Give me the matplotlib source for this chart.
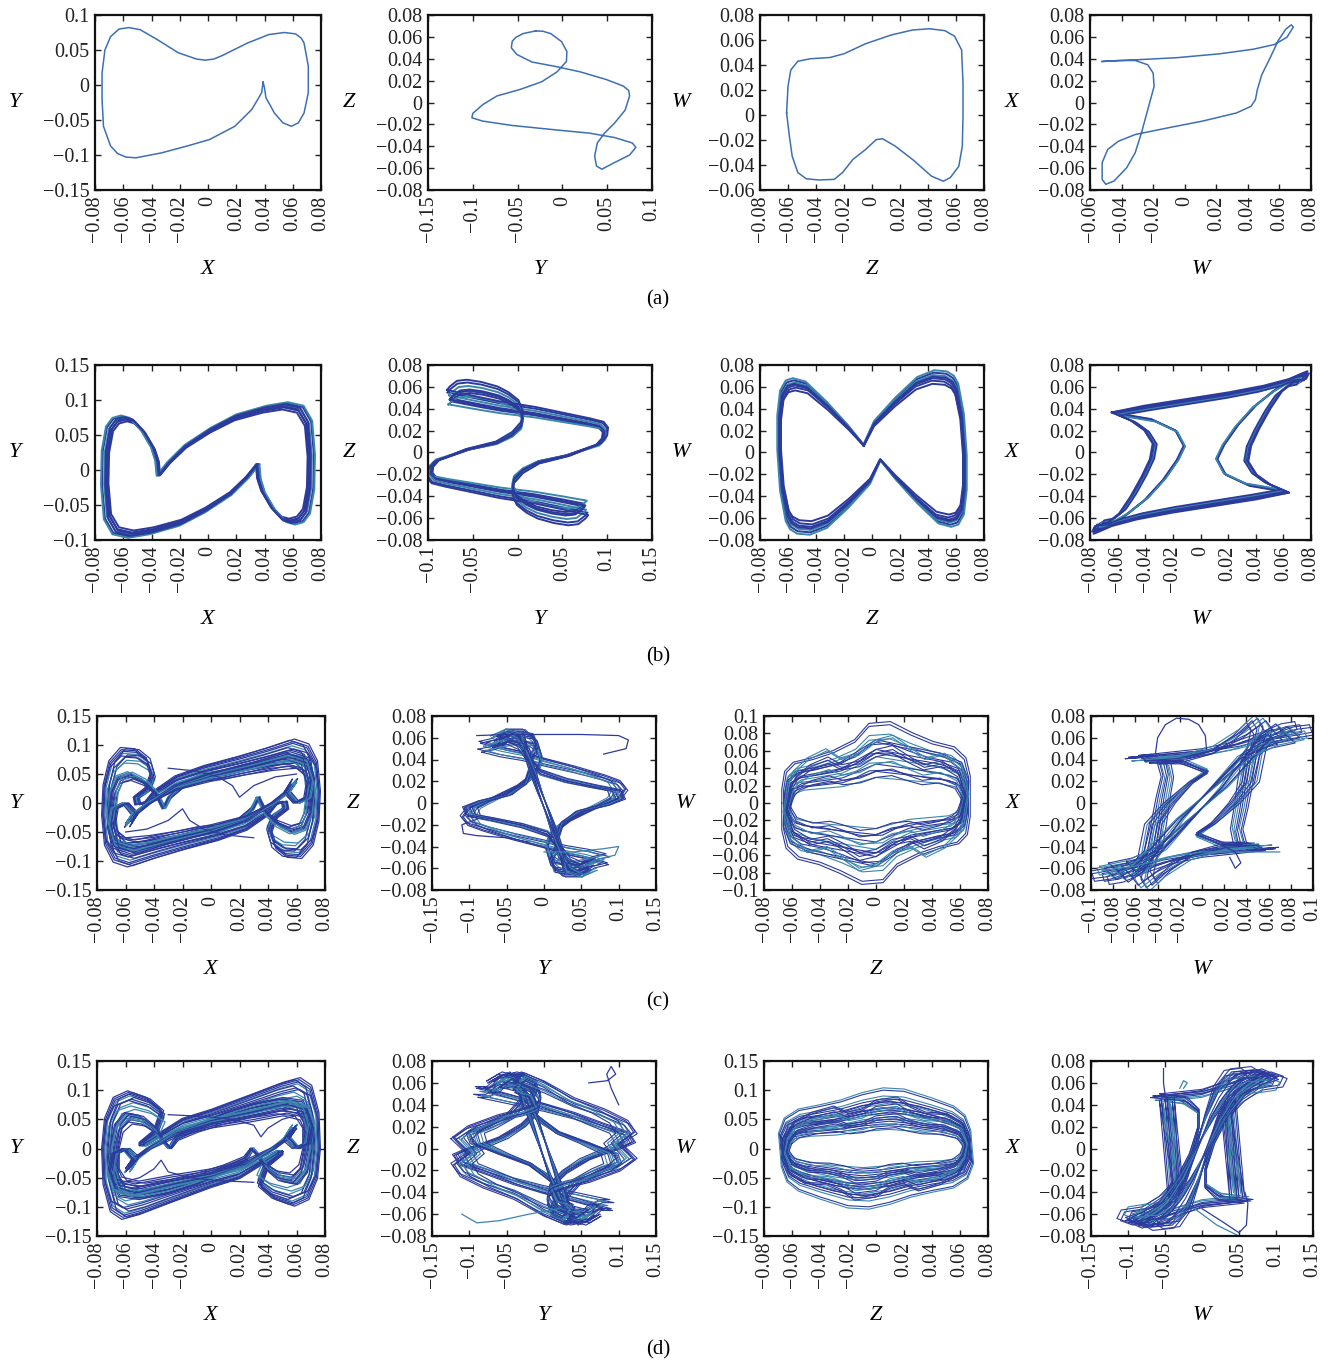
"""
Phase portraits of the 4D system: periodic (a), symmetric periodic (b) and chaotic (c, d).
"""
import matplotlib
matplotlib.use("Agg")
import matplotlib.pyplot as plt
import numpy as np

plt.rcParams['font.family'] = ['Liberation Serif', 'DejaVu Serif']

# ---- tick sets ----
T08 = [-0.08, -0.06, -0.04, -0.02, 0, 0.02, 0.04, 0.06, 0.08]
T15 = [-0.15, -0.1, -0.05, 0, 0.05, 0.1, 0.15]
T10 = [-0.1, -0.08, -0.06, -0.04, -0.02, 0, 0.02, 0.04, 0.06, 0.08, 0.1]
T_A1Y = [-0.15, -0.1, -0.05, 0, 0.05, 0.1]
T_A2X = [-0.15, -0.1, -0.05, 0, 0.05, 0.1]
T_A3Y = [-0.06, -0.04, -0.02, 0, 0.02, 0.04, 0.06, 0.08]
T_A4X = [-0.06, -0.04, -0.02, 0, 0.02, 0.04, 0.06, 0.08]
T_B1Y = [-0.1, -0.05, 0, 0.05, 0.1, 0.15]
T_B2X = [-0.1, -0.05, 0, 0.05, 0.1, 0.15]

# ---- (a) single periodic orbit, traced ----
A1 = [(0.039, 0.004), (0.038, -0.011), (0.031, -0.035), (0.019, -0.059), (0.001, -0.078),
      (-0.0145, -0.087), (-0.033, -0.097), (-0.051, -0.104), (-0.058, -0.103), (-0.064, -0.098),
      (-0.069, -0.087), (-0.074, -0.059), (-0.075, -0.021), (-0.075, 0.017), (-0.073, 0.050),
      (-0.069, 0.069), (-0.063, 0.080), (-0.056, 0.082), (-0.048, 0.079), (-0.036, 0.065),
      (-0.021, 0.046), (-0.008, 0.037), (-0.002, 0.0355), (0.004, 0.037), (0.010, 0.042),
      (0.028, 0.060), (0.043, 0.072), (0.054, 0.075), (0.062, 0.073), (0.066, 0.067),
      (0.068, 0.060), (0.071, 0.027), (0.071, -0.011), (0.068, -0.040), (0.064, -0.054),
      (0.059, -0.059), (0.053, -0.054), (0.047, -0.040), (0.041, -0.018), (0.040, -0.004),
      (0.039, 0.004)]
A2 = [(-0.030, 0.0654), (-0.044, 0.063), (-0.052, 0.0595), (-0.056, 0.056), (-0.057, 0.050),
      (-0.051, 0.044), (-0.034, 0.037), (-0.008, 0.033), (0.020, 0.028), (0.049, 0.021),
      (0.068, 0.015), (0.074, 0.011), (0.075, 0.006), (0.070, -0.007), (0.058, -0.019),
      (0.047, -0.028), (0.039, -0.037), (0.036, -0.049), (0.038, -0.058), (0.044, -0.061),
      (0.058, -0.055), (0.075, -0.048), (0.082, -0.041), (0.078, -0.037), (0.058, -0.032),
      (0.030, -0.028), (-0.008, -0.025), (-0.056, -0.021), (-0.089, -0.017), (-0.101, -0.014),
      (-0.100, -0.010), (-0.089, -0.002), (-0.073, 0.006), (-0.047, 0.012), (-0.023, 0.019),
      (-0.006, 0.028), (0.0045, 0.0375), (0.005, 0.0466), (-0.001, 0.0557), (-0.013, 0.063),
      (-0.022, 0.0652), (-0.030, 0.0654)]
A3 = [(-0.061, 0.0016), (-0.060, 0.023), (-0.058, 0.036), (-0.053, 0.043), (-0.044, 0.045),
      (-0.030, 0.046), (-0.020, 0.049), (-0.0046, 0.057), (0.0137, 0.064), (0.029, 0.068),
      (0.041, 0.069), (0.052, 0.0675), (0.059, 0.063), (0.064, 0.052), (0.065, 0.0255),
      (0.065, -0.001), (0.0645, -0.025), (0.062, -0.041), (0.056, -0.050), (0.051, -0.053),
      (0.0426, -0.049), (0.029, -0.0356), (0.0167, -0.025), (0.0076, -0.019), (0.003, -0.0197),
      (-0.0046, -0.0276), (-0.0137, -0.0356), (-0.021, -0.046), (-0.027, -0.0515),
      (-0.038, -0.052), (-0.047, -0.051), (-0.053, -0.046), (-0.057, -0.033), (-0.059, -0.017),
      (-0.061, 0.0016)]
A4 = [(-0.0523, 0.0375), (-0.0314, 0.039), (-0.0047, 0.041), (0.022, 0.0445), (0.0434, 0.0487),
      (0.0568, 0.053), (0.0648, 0.0597), (0.0688, 0.069), (0.0675, 0.071), (0.064, 0.067),
      (0.0594, 0.057), (0.054, 0.0405), (0.0488, 0.0253), (0.046, 0.0117), (0.0448, 0.0026),
      (0.042, -0.0035), (0.0327, -0.0096), (0.0113, -0.017), (-0.010, -0.023), (-0.0314, -0.0293),
      (-0.042, -0.0354), (-0.0488, -0.043), (-0.0523, -0.055), (-0.0523, -0.0703),
      (-0.050, -0.0748), (-0.0448, -0.0718), (-0.0368, -0.0597), (-0.0314, -0.046),
      (-0.0274, -0.0278), (-0.0234, -0.0065), (-0.0194, 0.0147), (-0.020, 0.0269),
      (-0.0234, 0.0345), (-0.0314, 0.0384), (-0.042, 0.0384), (-0.0523, 0.0375)]

# ---- (b) symmetric orbits: one half is traced, the other half is its point reflection ----
B1_HALF = [(0.036, 0.008), (0.0285, -0.011), (0.0164, -0.035), (-0.0018, -0.059), (-0.020, -0.078),
           (-0.041, -0.090), (-0.056, -0.095), (-0.067, -0.090), (-0.073, -0.069), (-0.075, -0.021),
           (-0.0745, 0.027), (-0.0715, 0.061), (-0.067, 0.073), (-0.061, 0.0764), (-0.055, 0.073),
           (-0.047, 0.056), (-0.040, 0.032), (-0.037, 0.013), (-0.036, -0.008)]
B2_HALF = [(-0.078, 0.055), (-0.05, 0.05), (-0.02, 0.045), (0.02, 0.04), (0.05, 0.035), (0.08, 0.03),
           (0.095, 0.027), (0.1, 0.022), (0.099, 0.015), (0.092, 0.008), (0.057, -0.003),
           (0.024, -0.0096), (0.006, -0.018), (-0.004, -0.027), (-0.006, -0.036), (-0.001, -0.046),
           (0.01, -0.053), (0.022, -0.058), (0.04, -0.062), (0.056, -0.064), (0.067, -0.063),
           (0.075, -0.058), (0.078, -0.055)]
B3_HALF = [(-0.006, 0.007), (-0.0167, 0.0238), (-0.032, 0.045), (-0.047, 0.063), (-0.056, 0.066),
           (-0.061, 0.064), (-0.065, 0.055), (-0.067, 0.033), (-0.067, 0.0026), (-0.065, -0.034),
           (-0.061, -0.061), (-0.058, -0.068), (-0.053, -0.072), (-0.044, -0.073), (-0.032, -0.067),
           (-0.0167, -0.049), (-0.0015, -0.028), (0.006, -0.007)]
B4_HALF_A = [(-0.063, 0.036), (-0.04, 0.042), (-0.01, 0.048), (0.02, 0.054), (0.045, 0.060),
             (0.063, 0.066), (0.072, 0.071), (0.076, 0.073), (0.074, 0.068), (0.066, 0.066),
             (0.055, 0.058), (0.04, 0.043), (0.027, 0.025), (0.017, 0.007), (0.012, -0.006),
             (0.018, -0.02), (0.035, -0.03), (0.063, -0.036)]
B4_HALF_B = [(-0.063, 0.036), (-0.04, 0.041), (-0.01, 0.047), (0.02, 0.053), (0.045, 0.059),
             (0.063, 0.065), (0.072, 0.07), (0.077, 0.071), (0.075, 0.066), (0.067, 0.064),
             (0.058, 0.055), (0.05, 0.04), (0.042, 0.022), (0.036, 0.006), (0.034, -0.008),
             (0.04, -0.02), (0.05, -0.029), (0.063, -0.036)]
B1_STRANDS = [(1.0, 1.0), (0.98, 0.97), (0.96, 0.94), (0.94, 0.91), (1.01, 1.02), (0.97, 0.99), (0.95, 0.96)]
B2_STRANDS = [(1.0, 1.0), (0.98, 0.95), (0.96, 0.9), (0.95, 0.85), (0.99, 0.8), (1.01, 1.04), (0.97, 0.88)]
B3_STRANDS = [(1.0, 1.0), (0.99, 0.97), (0.98, 0.93), (0.97, 0.9), (1.01, 1.03), (0.98, 0.86), (0.99, 0.95)]
B4_STRANDS = [(1.0, 1.0), (0.97, 0.98), (0.95, 0.96), (1.02, 1.02), (0.93, 0.94)]

# ---- (c) chaotic, weaker ----
C1_HALF_A = [(0.046, -0.002), (0.04, -0.02), (0.025, -0.045), (0.005, -0.062), (-0.02, -0.078),
             (-0.04, -0.092), (-0.058, -0.106), (-0.068, -0.098), (-0.074, -0.07), (-0.076, -0.02),
             (-0.075, 0.03), (-0.071, 0.07), (-0.063, 0.092), (-0.053, 0.09), (-0.045, 0.075),
             (-0.042, 0.05), (-0.046, 0.025), (-0.054, 0.01), (-0.053, -0.003), (-0.046, 0.002)]
C1_HALF_B = [(0.034, 0.01), (0.03, -0.01), (0.02, -0.035), (0.005, -0.05), (-0.01, -0.055),
             (-0.025, -0.065), (-0.045, -0.075), (-0.062, -0.08), (-0.07, -0.06), (-0.072, -0.02),
             (-0.07, 0.02), (-0.066, 0.045), (-0.058, 0.052), (-0.048, 0.04), (-0.04, 0.02),
             (-0.034, -0.01)]
C1_HALF_C = [(0.06, 0.04), (0.055, 0.02), (0.045, 0.0), (0.025, -0.03), (0.0, -0.05), (-0.03, -0.068),
             (-0.055, -0.085), (-0.068, -0.075), (-0.072, -0.04), (-0.07, -0.01), (-0.062, 0.0),
             (-0.055, -0.02), (-0.06, -0.04)]
C1_CUSP = [(-0.06, -0.05), (-0.045, -0.045), (-0.03, -0.03), (-0.02, -0.01), (-0.015, -0.03),
           (-0.005, -0.045), (0.01, -0.055), (0.03, -0.06)]
C1_STRANDS = [(1.0, 1.0), (0.98, 0.93), (0.96, 0.86), (1.01, 1.04), (0.94, 0.8), (0.99, 0.97),
              (0.93, 0.9), (0.97, 0.75), (1.0, 0.88), (0.95, 1.02)]

C2_HALF_A = [(-0.085, 0.055), (-0.06, 0.05), (-0.03, 0.046), (0.0, 0.04), (0.04, 0.033), (0.08, 0.025),
             (0.1, 0.02), (0.108, 0.013), (0.1, 0.005), (0.065, -0.006), (0.035, -0.016),
             (0.012, -0.028), (0.003, -0.042), (0.01, -0.056), (0.028, -0.066), (0.05, -0.066),
             (0.066, -0.058), (0.085, -0.055)]
C2_HALF_B = [(-0.06, 0.06), (-0.035, 0.064), (-0.015, 0.062), (-0.01, 0.052), (-0.02, 0.042),
             (-0.005, 0.03), (0.03, 0.022), (0.07, 0.016), (0.1, 0.012), (0.105, 0.004),
             (0.085, -0.002), (0.05, -0.008), (0.025, -0.02), (0.018, -0.035), (0.022, -0.05),
             (0.035, -0.062), (0.05, -0.066), (0.06, -0.06)]
C2_HALF_C = [(-0.07, 0.06), (-0.05, 0.066), (-0.03, 0.062), (-0.025, 0.048), (-0.018, 0.03),
             (-0.008, 0.01), (0.003, -0.01), (0.012, -0.028), (0.022, -0.045), (0.035, -0.058),
             (0.052, -0.064), (0.07, -0.06)]
C2_STRAYS = [
    [(-0.09, 0.062), (-0.05, 0.063), (0.0, 0.063), (0.05, 0.063), (0.1, 0.062), (0.113, 0.058),
     (0.11, 0.05), (0.08, 0.045)],
    [(0.0, -0.045), (0.04, -0.045), (0.08, -0.042), (0.1, -0.04), (0.095, -0.048), (0.07, -0.052),
     (0.06, -0.055)],
    [(-0.02, -0.036), (-0.05, -0.032), (-0.09, -0.03), (-0.108, -0.028), (-0.11, -0.02), (-0.09, -0.015)],
]
C2_STRANDS = [(1.0, 1.0), (0.95, 0.95), (0.9, 1.02), (1.04, 0.9), (0.85, 0.97), (0.98, 0.85),
              (1.02, 1.03), (0.92, 0.88)]

C3_HALF_A = [(-0.066, 0.0), (-0.066, -0.03), (-0.063, -0.05), (-0.055, -0.062), (-0.04, -0.068),
             (-0.025, -0.078), (-0.01, -0.09), (0.005, -0.088), (0.015, -0.07), (0.03, -0.058),
             (0.045, -0.05), (0.058, -0.045), (0.064, -0.035), (0.066, -0.015), (0.066, 0.0)]
C3_HALF_B = [(-0.064, 0.01), (-0.065, -0.025), (-0.06, -0.045), (-0.045, -0.055), (-0.03, -0.06),
             (-0.015, -0.065), (0.0, -0.07), (0.01, -0.06), (0.025, -0.045), (0.04, -0.04),
             (0.055, -0.035), (0.062, -0.025), (0.064, -0.01)]
C3_HALF_C = [(-0.062, 0.02), (-0.065, -0.01), (-0.06, -0.04), (-0.048, -0.055), (-0.035, -0.05),
             (-0.025, -0.06), (-0.012, -0.075), (0.0, -0.07), (0.012, -0.055), (0.025, -0.05),
             (0.035, -0.06), (0.048, -0.05), (0.058, -0.035), (0.062, -0.02)]
C3_STRANDS = [(1.0, 1.0), (0.98, 0.88), (0.97, 0.76), (0.96, 0.64), (0.95, 0.52), (0.94, 0.42),
              (1.02, 1.04), (0.99, 0.82)]

C4_HALF_A = [(-0.06, 0.042), (-0.03, 0.045), (0.0, 0.048), (0.03, 0.054), (0.055, 0.062), (0.075, 0.07),
             (0.088, 0.072), (0.09, 0.065), (0.075, 0.062), (0.055, 0.058), (0.045, 0.045),
             (0.04, 0.02), (0.036, -0.005), (0.032, -0.025), (0.035, -0.038), (0.048, -0.043),
             (0.06, -0.042)]
C4_HALF_B = [(-0.045, 0.04), (-0.02, 0.042), (0.01, 0.05), (0.035, 0.065), (0.05, 0.078), (0.055, 0.07),
             (0.05, 0.05), (0.045, 0.02), (0.03, 0.0), (0.01, -0.02), (-0.005, -0.03), (0.02, -0.04),
             (0.045, -0.04)]
C4_HALF_C = [(-0.08, -0.06), (-0.06, -0.055), (-0.04, -0.045), (-0.02, -0.025), (0.0, -0.005),
             (0.02, 0.015), (0.04, 0.04), (0.055, 0.06), (0.07, 0.07), (0.08, 0.06)]
C4_STRAYS = [
    [(-0.042, 0.045), (-0.04, 0.06), (-0.033, 0.072), (-0.023, 0.078), (-0.012, 0.077),
     (-0.003, 0.072), (0.003, 0.062), (0.004, 0.05)],
    [(-0.09, -0.062), (-0.06, -0.058), (-0.03, -0.05), (0.0, -0.045), (0.04, -0.045), (0.07, -0.045)],
    [(0.02, -0.04), (0.03, -0.045), (0.035, -0.055), (0.03, -0.06), (0.025, -0.05)],
]
C4_STRANDS = [(1.0, 1.0), (0.9, 0.97), (1.1, 1.0), (0.8, 0.95), (1.05, 0.92), (0.95, 1.04),
              (1.15, 0.97), (0.85, 0.9)]

# ---- (d) chaotic, stronger ----
D1_HALF_A = [(0.05, -0.005), (0.04, -0.02), (0.02, -0.05), (0.0, -0.065), (-0.028, -0.09),
             (-0.05, -0.11), (-0.062, -0.118), (-0.07, -0.105), (-0.075, -0.06), (-0.076, 0.0),
             (-0.074, 0.05), (-0.068, 0.085), (-0.058, 0.096), (-0.045, 0.085), (-0.035, 0.065),
             (-0.04, 0.03), (-0.05, 0.01), (-0.05, 0.005)]
D1_HALF_B = [(0.03, 0.0), (0.025, -0.02), (0.01, -0.04), (-0.01, -0.06), (-0.03, -0.075),
             (-0.05, -0.085), (-0.064, -0.08), (-0.07, -0.05), (-0.07, 0.0), (-0.067, 0.04),
             (-0.06, 0.06), (-0.05, 0.055), (-0.04, 0.035), (-0.035, 0.015), (-0.03, 0.0)]
D1_HALF_C = [(0.06, 0.04), (0.055, 0.02), (0.045, 0.0), (0.025, -0.03), (0.0, -0.05), (-0.03, -0.065),
             (-0.055, -0.08), (-0.068, -0.07), (-0.072, -0.04), (-0.07, -0.01), (-0.062, 0.0),
             (-0.055, -0.02), (-0.06, -0.04)]
D1_CUSP = [(-0.065, -0.06), (-0.05, -0.05), (-0.04, -0.035), (-0.035, -0.02), (-0.03, -0.04),
           (-0.015, -0.05), (0.005, -0.055), (0.03, -0.058)]
D1_STRANDS = [(1.0, 1.0), (0.98, 0.94), (0.96, 0.88), (1.01, 1.03), (0.94, 0.82), (0.99, 0.97),
              (0.93, 0.91), (0.97, 0.76), (1.0, 0.86), (0.95, 1.0), (0.92, 0.7)]

D2_HALF_A = [(-0.09, 0.055), (-0.06, 0.05), (-0.03, 0.045), (0.0, 0.04), (0.04, 0.032), (0.08, 0.022),
             (0.11, 0.015), (0.118, 0.006), (0.1, 0.0), (0.06, -0.01), (0.03, -0.022), (0.01, -0.035),
             (0.005, -0.05), (0.015, -0.062), (0.035, -0.068), (0.06, -0.064), (0.075, -0.055),
             (0.09, -0.055)]
D2_HALF_B = [(-0.05, 0.065), (-0.03, 0.066), (-0.01, 0.06), (-0.02, 0.045), (-0.01, 0.03),
             (0.02, 0.015), (0.06, 0.005), (0.095, -0.005), (0.1, -0.015), (0.08, -0.02),
             (0.05, -0.03), (0.03, -0.045), (0.03, -0.058), (0.045, -0.068), (0.05, -0.065)]
D2_HALF_C = [(-0.075, 0.06), (-0.055, 0.068), (-0.035, 0.064), (-0.03, 0.05), (-0.02, 0.03),
             (-0.01, 0.01), (0.0, -0.01), (0.01, -0.03), (0.022, -0.048), (0.04, -0.062),
             (0.06, -0.066), (0.075, -0.06)]
D2_HALF_D = [(-0.12, 0.01), (-0.1, 0.02), (-0.06, 0.03), (-0.03, 0.035), (-0.01, 0.04), (-0.02, 0.055),
             (-0.04, 0.06), (-0.03, 0.068), (0.0, 0.06), (0.04, 0.045), (0.08, 0.035), (0.11, 0.025),
             (0.12, 0.015), (0.1, 0.005), (0.12, -0.01)]
D2_STRAYS = [
    [(0.06, 0.06), (0.085, 0.062), (0.096, 0.068), (0.09, 0.075), (0.084, 0.068), (0.09, 0.055),
     (0.1, 0.04)],
    [(-0.11, -0.06), (-0.09, -0.068), (-0.06, -0.066), (-0.02, -0.06), (0.02, -0.055)],
]
D2_STRANDS = [(1.0, 1.0), (0.95, 0.95), (0.9, 1.02), (1.04, 0.9), (0.85, 0.97), (0.98, 0.85),
              (1.02, 1.03), (0.92, 0.88), (0.8, 0.93)]

D3_HALF_A = [(-0.068, 0.0), (-0.067, -0.03), (-0.063, -0.055), (-0.055, -0.07), (-0.04, -0.083),
             (-0.02, -0.098), (-0.005, -0.1), (0.01, -0.092), (0.025, -0.08), (0.04, -0.072),
             (0.055, -0.065), (0.065, -0.05), (0.069, -0.025), (0.068, 0.0)]
D3_HALF_B = [(-0.066, 0.01), (-0.066, -0.02), (-0.06, -0.045), (-0.045, -0.06), (-0.03, -0.07),
             (-0.01, -0.078), (0.01, -0.07), (0.03, -0.055), (0.05, -0.05), (0.062, -0.04),
             (0.066, -0.01)]
D3_HALF_C = [(-0.064, 0.02), (-0.066, -0.01), (-0.062, -0.04), (-0.05, -0.058), (-0.035, -0.06),
             (-0.025, -0.07), (-0.015, -0.085), (0.0, -0.08), (0.01, -0.065), (0.02, -0.06),
             (0.03, -0.07), (0.045, -0.06), (0.058, -0.045), (0.064, -0.02)]
D3_STRANDS = [(1.0, 1.0), (0.99, 0.9), (0.98, 0.8), (0.97, 0.7), (0.96, 0.6), (0.95, 0.5),
              (0.94, 0.42), (1.01, 1.04), (0.99, 0.85), (0.97, 0.65)]

D4_HALF_A = [(-0.06, 0.048), (-0.03, 0.05), (0.0, 0.052), (0.03, 0.058), (0.06, 0.065), (0.085, 0.07),
             (0.1, 0.066), (0.095, 0.058), (0.07, 0.055), (0.05, 0.045), (0.03, 0.028), (0.015, 0.005),
             (0.005, -0.02), (0.005, -0.035), (0.025, -0.045), (0.06, -0.048)]
D4_HALF_B = [(-0.05, 0.045), (-0.045, 0.02), (-0.04, -0.005), (-0.035, -0.03), (-0.045, -0.05),
             (-0.07, -0.06), (-0.09, -0.065), (-0.07, -0.072), (-0.04, -0.07), (-0.02, -0.055),
             (-0.005, -0.03), (0.01, 0.0), (0.025, 0.025), (0.04, 0.045), (0.05, -0.045)]
D4_HALF_C = [(-0.09, -0.068), (-0.07, -0.06), (-0.05, -0.05), (-0.03, -0.03), (-0.015, -0.01),
             (0.0, 0.01), (0.015, 0.03), (0.03, 0.045), (0.05, 0.06), (0.07, 0.068), (0.09, 0.068)]
D4_STRAYS = [
    [(-0.052, 0.073), (-0.052, 0.06), (-0.05, 0.05)],
    [(-0.03, 0.055), (-0.025, 0.062), (-0.02, 0.06), (-0.025, 0.055)],
    [(0.0, -0.055), (0.03, -0.068), (0.05, -0.077), (0.06, -0.07), (0.062, -0.05), (0.058, -0.04)],
    [(-0.01, -0.055), (0.02, -0.07), (0.05, -0.08)],
]
D4_STRANDS = [(1.0, 1.0), (0.9, 0.97), (1.1, 1.0), (0.8, 0.95), (1.05, 0.92), (0.95, 1.04),
              (1.15, 0.97), (0.85, 0.9), (0.75, 1.02)]

# ---- styling ----
LIGHT_BLUE = '#3d6fb4'
DARK_BLUE = '#2c3a9c'
TEAL = '#3a86ad'

W, H = 1333, 1365
COLS_AB = [(95, 321), (428, 652), (760, 984), (1090, 1311)]
COLS_CD = [(97, 325), (432, 656), (764, 988), (1091, 1313)]
ROWS = [(15, 190), (365, 540), (716, 890), (1061, 1236)]

fig = plt.figure(figsize=(W / 100, H / 100), dpi=100)


def make_ax(row, col, xticks, yticks, xlabel, ylabel):
    cols = COLS_AB if row < 2 else COLS_CD
    x0, x1 = cols[col]
    y0, y1 = ROWS[row]
    ax = fig.add_axes([x0 / W, 1 - y1 / H, (x1 - x0) / W, (y1 - y0) / H])
    ax.set_xlim(xticks[0], xticks[-1])
    ax.set_ylim(yticks[0], yticks[-1])
    fmt = lambda v: f"{v:g}".replace('-', '\u2212')
    ax.set_xticks(xticks, [fmt(v) for v in xticks], rotation=90)
    ax.set_yticks(yticks, [fmt(v) for v in yticks])
    ax.tick_params(direction='in', top=True, right=True, length=4, width=1,
                   labelsize=14.5, pad=4, colors='#222222')
    for sp in ax.spines.values():
        sp.set_linewidth(1.6)
        sp.set_color('#111111')
    ax.set_xlabel(xlabel, fontsize=16, style='italic')
    ax.xaxis.set_label_coords(0.5, -0.40)
    ax.set_ylabel(ylabel, fontsize=16, style='italic', rotation=0, va='center', ha='center')
    ax.yaxis.set_label_coords(-0.355, 0.5)
    return ax


def draw_closed(ax, pts):
    p = np.array(pts)
    ax.plot(p[:, 0], p[:, 1], color=LIGHT_BLUE, lw=1.1, solid_joinstyle='round')


def draw_sym(ax, halves, strands, lw):
    # each half orbit is completed by its point reflection (x, y) -> (-x, -y)
    k = 0
    for half in halves:
        h = np.array(half)
        full = np.vstack([h, -h[1:]])
        for sx, sy in strands:
            col = TEAL if k % 3 == 1 else DARK_BLUE
            ax.plot(full[:, 0] * sx, full[:, 1] * sy, color=col, lw=lw, solid_joinstyle='round')
            k += 1


def draw_strays(ax, paths, mirror=False, lw=0.9):
    for i, pth in enumerate(paths):
        p = np.array(pth)
        col = TEAL if i % 2 else DARK_BLUE
        ax.plot(p[:, 0], p[:, 1], color=col, lw=lw)
        if mirror:
            ax.plot(-p[:, 0], -p[:, 1], color=DARK_BLUE, lw=lw)


# row (a)
ax = make_ax(0, 0, T08, T_A1Y, 'X', 'Y'); draw_closed(ax, A1)
ax = make_ax(0, 1, T_A2X, T08, 'Y', 'Z'); draw_closed(ax, A2)
ax = make_ax(0, 2, T08, T_A3Y, 'Z', 'W'); draw_closed(ax, A3)
ax = make_ax(0, 3, T_A4X, T08, 'W', 'X'); draw_closed(ax, A4)

# row (b)
ax = make_ax(1, 0, T08, T_B1Y, 'X', 'Y'); draw_sym(ax, [B1_HALF], B1_STRANDS, 1.4)
ax = make_ax(1, 1, T_B2X, T08, 'Y', 'Z'); draw_sym(ax, [B2_HALF], B2_STRANDS, 1.4)
ax = make_ax(1, 2, T08, T08, 'Z', 'W'); draw_sym(ax, [B3_HALF], B3_STRANDS, 1.4)
ax = make_ax(1, 3, T08, T08, 'W', 'X'); draw_sym(ax, [B4_HALF_A, B4_HALF_B], B4_STRANDS, 1.3)

# row (c)
ax = make_ax(2, 0, T08, T15, 'X', 'Y')
draw_sym(ax, [C1_HALF_A, C1_HALF_B, C1_HALF_C], C1_STRANDS, 0.9)
draw_strays(ax, [C1_CUSP], mirror=True)
ax = make_ax(2, 1, T15, T08, 'Y', 'Z')
draw_sym(ax, [C2_HALF_A, C2_HALF_B, C2_HALF_C], C2_STRANDS, 0.8)
draw_strays(ax, C2_STRAYS)
ax = make_ax(2, 2, T08, T10, 'Z', 'W')
draw_sym(ax, [C3_HALF_A, C3_HALF_B, C3_HALF_C], C3_STRANDS, 0.8)
ax = make_ax(2, 3, T10, T08, 'W', 'X')
draw_sym(ax, [C4_HALF_A, C4_HALF_B, C4_HALF_C], C4_STRANDS, 0.8)
draw_strays(ax, C4_STRAYS)

# row (d)
ax = make_ax(3, 0, T08, T15, 'X', 'Y')
draw_sym(ax, [D1_HALF_A, D1_HALF_B, D1_HALF_C], D1_STRANDS, 0.9)
draw_strays(ax, [D1_CUSP], mirror=True)
ax = make_ax(3, 1, T15, T08, 'Y', 'Z')
draw_sym(ax, [D2_HALF_A, D2_HALF_B, D2_HALF_C, D2_HALF_D], D2_STRANDS, 0.8)
draw_strays(ax, D2_STRAYS)
ax = make_ax(3, 2, T08, T15, 'Z', 'W')
draw_sym(ax, [D3_HALF_A, D3_HALF_B, D3_HALF_C], D3_STRANDS, 0.8)
ax = make_ax(3, 3, T15, T08, 'W', 'X')
draw_sym(ax, [D4_HALF_A, D4_HALF_B, D4_HALF_C], D4_STRANDS, 0.8)
draw_strays(ax, D4_STRAYS)

for lab, yy in zip(['(a)', '(b)', '(c)', '(d)'], [300, 657, 1002, 1350]):
    fig.text(658 / W, 1 - yy / H, lab, fontsize=15, ha='center', va='center')

fig.savefig('out.png', dpi=100)
